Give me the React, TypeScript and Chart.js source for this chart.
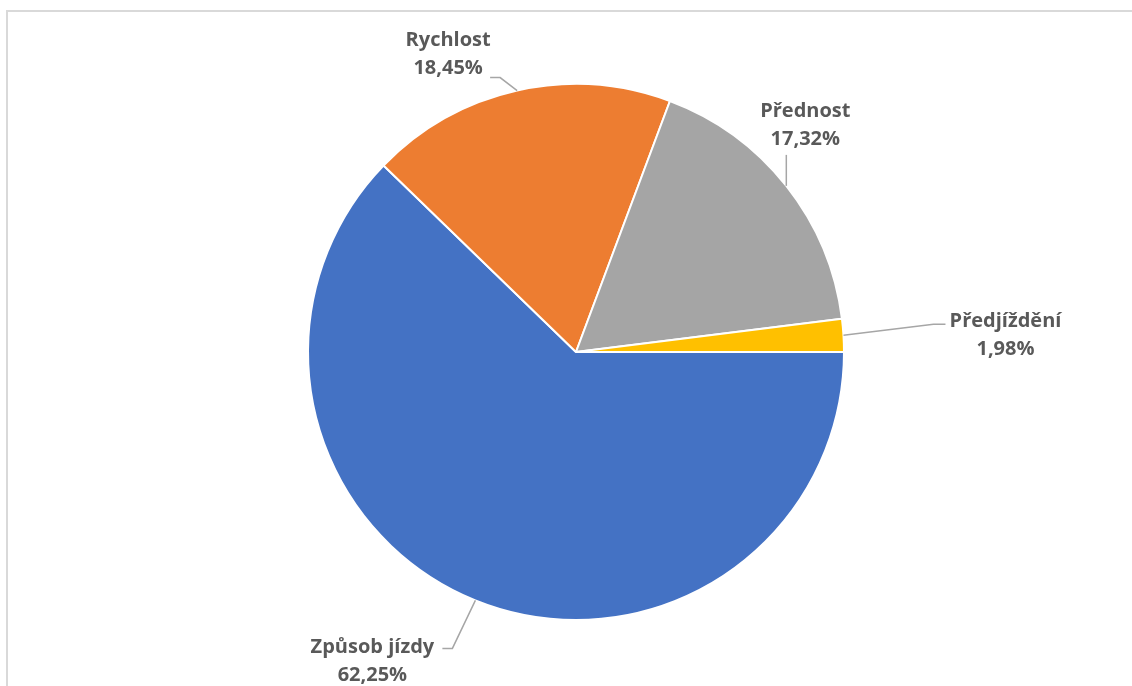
import React, { useEffect, useRef } from "react";
import { Chart, registerables } from "chart.js";

Chart.register(...registerables);

const categories = ["Způsob jízdy", "Rychlost", "Přednost", "Předjíždění"];
const shares = [62.25, 18.45, 17.32, 1.98];
const sliceColors = ["#4472C4", "#ED7D31", "#A5A5A5", "#FFC000"];

// label placement relative to slice anchor (outer edge at mid-angle)
const labelLayout = [
  { center: [-103, 61], leader: [[-23, 48], [-33, 48]] },
  { center: [-69, -36], leader: [[-17, -13], [-27, -13]] },
  { center: [19, -61], leader: [[0, -31]] },
  { center: [162, 0], leader: [[90, -11], [102, -11]] },
];

const FONT = "bold 20px 'Open Sans', 'DejaVu Sans', sans-serif";

const labelPlugin = {
  id: "excelLabels",
  afterDatasetsDraw(chart: any) {
    const ctx = chart.ctx;
    const meta = chart.getDatasetMeta(0);
    const data = chart.data.datasets[0].data as number[];
    const total = data.reduce((a, b) => a + b, 0);
    ctx.save();
    meta.data.forEach((arc: any, i: number) => {
      const p = arc.getProps(["x", "y", "startAngle", "endAngle", "outerRadius"], true);
      const mid = (p.startAngle + p.endAngle) / 2;
      const ax = p.x + Math.cos(mid) * p.outerRadius;
      const ay = p.y + Math.sin(mid) * p.outerRadius;
      const lay = labelLayout[i];
      ctx.strokeStyle = "#A6A6A6";
      ctx.lineWidth = 1.5;
      ctx.beginPath();
      ctx.moveTo(ax, ay);
      lay.leader.forEach((pt) => ctx.lineTo(ax + pt[0], ay + pt[1]));
      ctx.stroke();
      const cx = ax + lay.center[0];
      const cy = ay + lay.center[1];
      ctx.fillStyle = "#595959";
      ctx.font = FONT;
      ctx.textAlign = "center";
      ctx.textBaseline = "middle";
      const pct = ((data[i] / total) * 100).toFixed(2).replace(".", ",") + "%";
      ctx.fillText(chart.data.labels[i], cx, cy - 14);
      ctx.fillText(pct, cx, cy + 14);
    });
    ctx.restore();
  },
};

export default function App() {
  const ref = useRef<HTMLCanvasElement | null>(null);
  useEffect(() => {
    if (!ref.current) return;
    const chart = new Chart(ref.current, {
      type: "pie",
      data: {
        labels: categories,
        datasets: [
          {
            data: shares,
            backgroundColor: sliceColors,
            borderColor: "#FFFFFF",
            borderWidth: 2,
          },
        ],
      },
      options: {
        animation: false,
        responsive: false,
        rotation: 90,
        radius: 268,
        layout: { padding: { top: 84, bottom: 66, left: 308, right: 288 } },
        plugins: { legend: { display: false }, tooltip: { enabled: false } },
      } as any,
      plugins: [labelPlugin],
    });
    return () => chart.destroy();
  }, []);
  return (
    <div
      style={{
        position: "fixed",
        left: 0,
        top: 0,
        width: 1132,
        height: 686,
        overflow: "hidden",
        background: "#fff",
      }}
    >
      <div
        style={{
          position: "absolute",
          left: 6,
          top: 10,
          width: 2000,
          height: 2000,
          border: "2px solid #D9D9D9",
        }}
      />
      <canvas
        ref={ref}
        width={1132}
        height={686}
        style={{ position: "absolute", left: 0, top: 0, width: 1132, height: 686 }}
      />
    </div>
  );
}
